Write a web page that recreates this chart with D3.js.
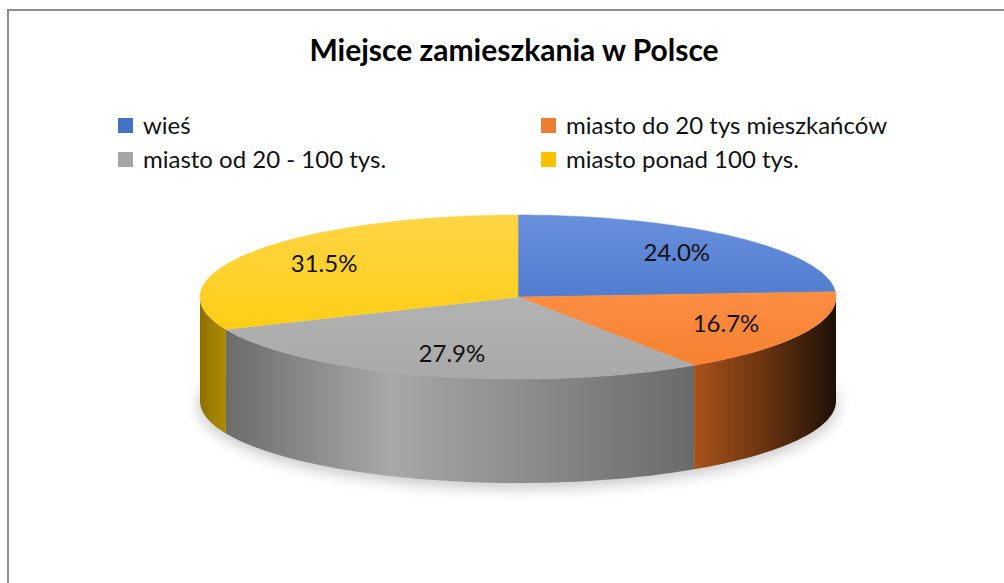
<!DOCTYPE html>
<html>
<head>
<meta charset="utf-8">
<script src="https://cdn.jsdelivr.net/npm/d3@7"></script>
<style>
  body { margin: 0; background: #fff; }
  text { font-family: Lato, "Liberation Sans", sans-serif; }
</style>
</head>
<body>
<svg width="1004" height="583"></svg>
<script>
// data
var categories = ["wieś", "miasto do 20 tys mieszkańców", "miasto od 20 - 100 tys.", "miasto ponad 100 tys."];
var values = [24.0, 16.7, 27.9, 31.5];
var labels = ["24.0%", "16.7%", "27.9%", "31.5%"];
var legendColors = ["#4472C4", "#ED7D31", "#A5A5A5", "#FFC000"];

var topColors = [["#6890dc", "#3a69c3"], ["#ff9a58", "#f67f2c"], ["#bcbcbc", "#a9a9a9"], ["#ffd546", "#ffcb00"]];
var sideColors = [["#2e55a0", "#20407a", "#2e55a0"], ["#a8521a", "#6a3310", "#1e1007"],
                  ["#6c6c6c", "#a8a8a8", "#6a6a6a"], ["#8c6e00", "#a07f02", "#ad8a05"]];

var svg = d3.select("svg"),
    width = +svg.attr("width"),
    height = +svg.attr("height");

var cx = 518, cy = 297, rx = 318, ry = 82, depth = 104;

var defs = svg.append("defs");

// chart frame
svg.append("rect")
    .attr("x", 8).attr("y", 10)
    .attr("width", width + 20).attr("height", height + 20)
    .attr("fill", "#fff")
    .attr("stroke", "#8e8e8e")
    .attr("stroke-width", 2);

svg.append("text")
    .attr("x", 514).attr("y", 61)
    .attr("text-anchor", "middle")
    .style("font-size", "30px")
    .style("font-weight", "bold")
    .attr("fill", "#000")
    .text("Miejsce zamieszkania w Polsce");

// legend
var legend = svg.selectAll(".legend")
    .data(categories)
  .enter().append("g")
    .attr("class", "legend")
    .attr("transform", function(d, i) {
      return "translate(" + (i % 2 ? 541 : 118) + "," + (i < 2 ? 118 : 152) + ")";
    });

legend.append("rect")
    .attr("width", 15).attr("height", 15)
    .attr("fill", function(d, i) { return legendColors[i]; });

legend.append("text")
    .attr("x", 25).attr("y", 16)
    .style("font-size", "24px")
    .attr("fill", "#111")
    .text(function(d) { return d; });

// pie layout
var pie = d3.pie().sort(null).value(function(d) { return d; });
var arcs = pie(values);

function px(a, r) { return cx + rx * r * Math.sin(a); }
function py(a, r) { return cy - ry * r * Math.cos(a); }

// shadow
var blur = defs.append("filter").attr("id", "shadow")
    .attr("x", "-20%").attr("y", "-50%").attr("width", "140%").attr("height", "200%");
blur.append("feGaussianBlur").attr("stdDeviation", 7);

svg.append("ellipse")
    .attr("cx", cx).attr("cy", cy + depth + 4)
    .attr("rx", rx + 2).attr("ry", ry + 2)
    .attr("fill", "#000")
    .attr("opacity", 0.2)
    .attr("filter", "url(#shadow)");

// side walls (front half only)
var line = d3.line();
arcs.forEach(function(d, i) {
  var a0 = Math.max(d.startAngle, Math.PI / 2),
      a1 = Math.min(d.endAngle, Math.PI * 1.5);
  if (a1 <= a0) return;
  var angles = d3.range(0, 61).map(function(k) { return a0 + (a1 - a0) * k / 60; });
  var pts = angles.map(function(a) { return [px(a, 1), py(a, 1)]; })
      .concat(angles.slice().reverse().map(function(a) { return [px(a, 1), py(a, 1) + depth]; }));

  var g = defs.append("linearGradient")
      .attr("id", "side" + i)
      .attr("x1", 0).attr("x2", 1).attr("y1", 0).attr("y2", 0);
  var stops = i === 2 ? [0, 0.35, 1] : [0, 0.5, 1];
  sideColors[i].forEach(function(c, k) {
    g.append("stop").attr("offset", stops[k]).attr("stop-color", c);
  });

  svg.append("path")
      .attr("d", line(pts) + "Z")
      .attr("fill", "url(#side" + i + ")");
});

// top faces
arcs.forEach(function(d, i) {
  var g = defs.append("linearGradient")
      .attr("id", "top" + i)
      .attr("gradientUnits", "userSpaceOnUse")
      .attr("x1", 0).attr("x2", 0).attr("y1", cy - ry).attr("y2", cy + ry);
  g.append("stop").attr("offset", 0).attr("stop-color", topColors[i][0]);
  g.append("stop").attr("offset", 1).attr("stop-color", topColors[i][1]);

  var angles = d3.range(0, 81).map(function(k) { return d.startAngle + (d.endAngle - d.startAngle) * k / 80; });
  var pts = [[cx, cy]].concat(angles.map(function(a) { return [px(a, 1), py(a, 1)]; }));

  svg.append("path")
      .attr("d", line(pts) + "Z")
      .attr("fill", "url(#top" + i + ")")
      .attr("stroke", "url(#top" + i + ")")
      .attr("stroke-width", 0.5);
});

// data labels
svg.selectAll(".label")
    .data(arcs)
  .enter().append("text")
    .attr("class", "label")
    .attr("x", function(d) { return px((d.startAngle + d.endAngle) / 2, 0.73); })
    .attr("y", function(d) { return py((d.startAngle + d.endAngle) / 2, 0.73) + 8; })
    .attr("text-anchor", "middle")
    .style("font-size", "24px")
    .attr("fill", "#111")
    .text(function(d, i) { return labels[i]; });
</script>
</body>
</html>
